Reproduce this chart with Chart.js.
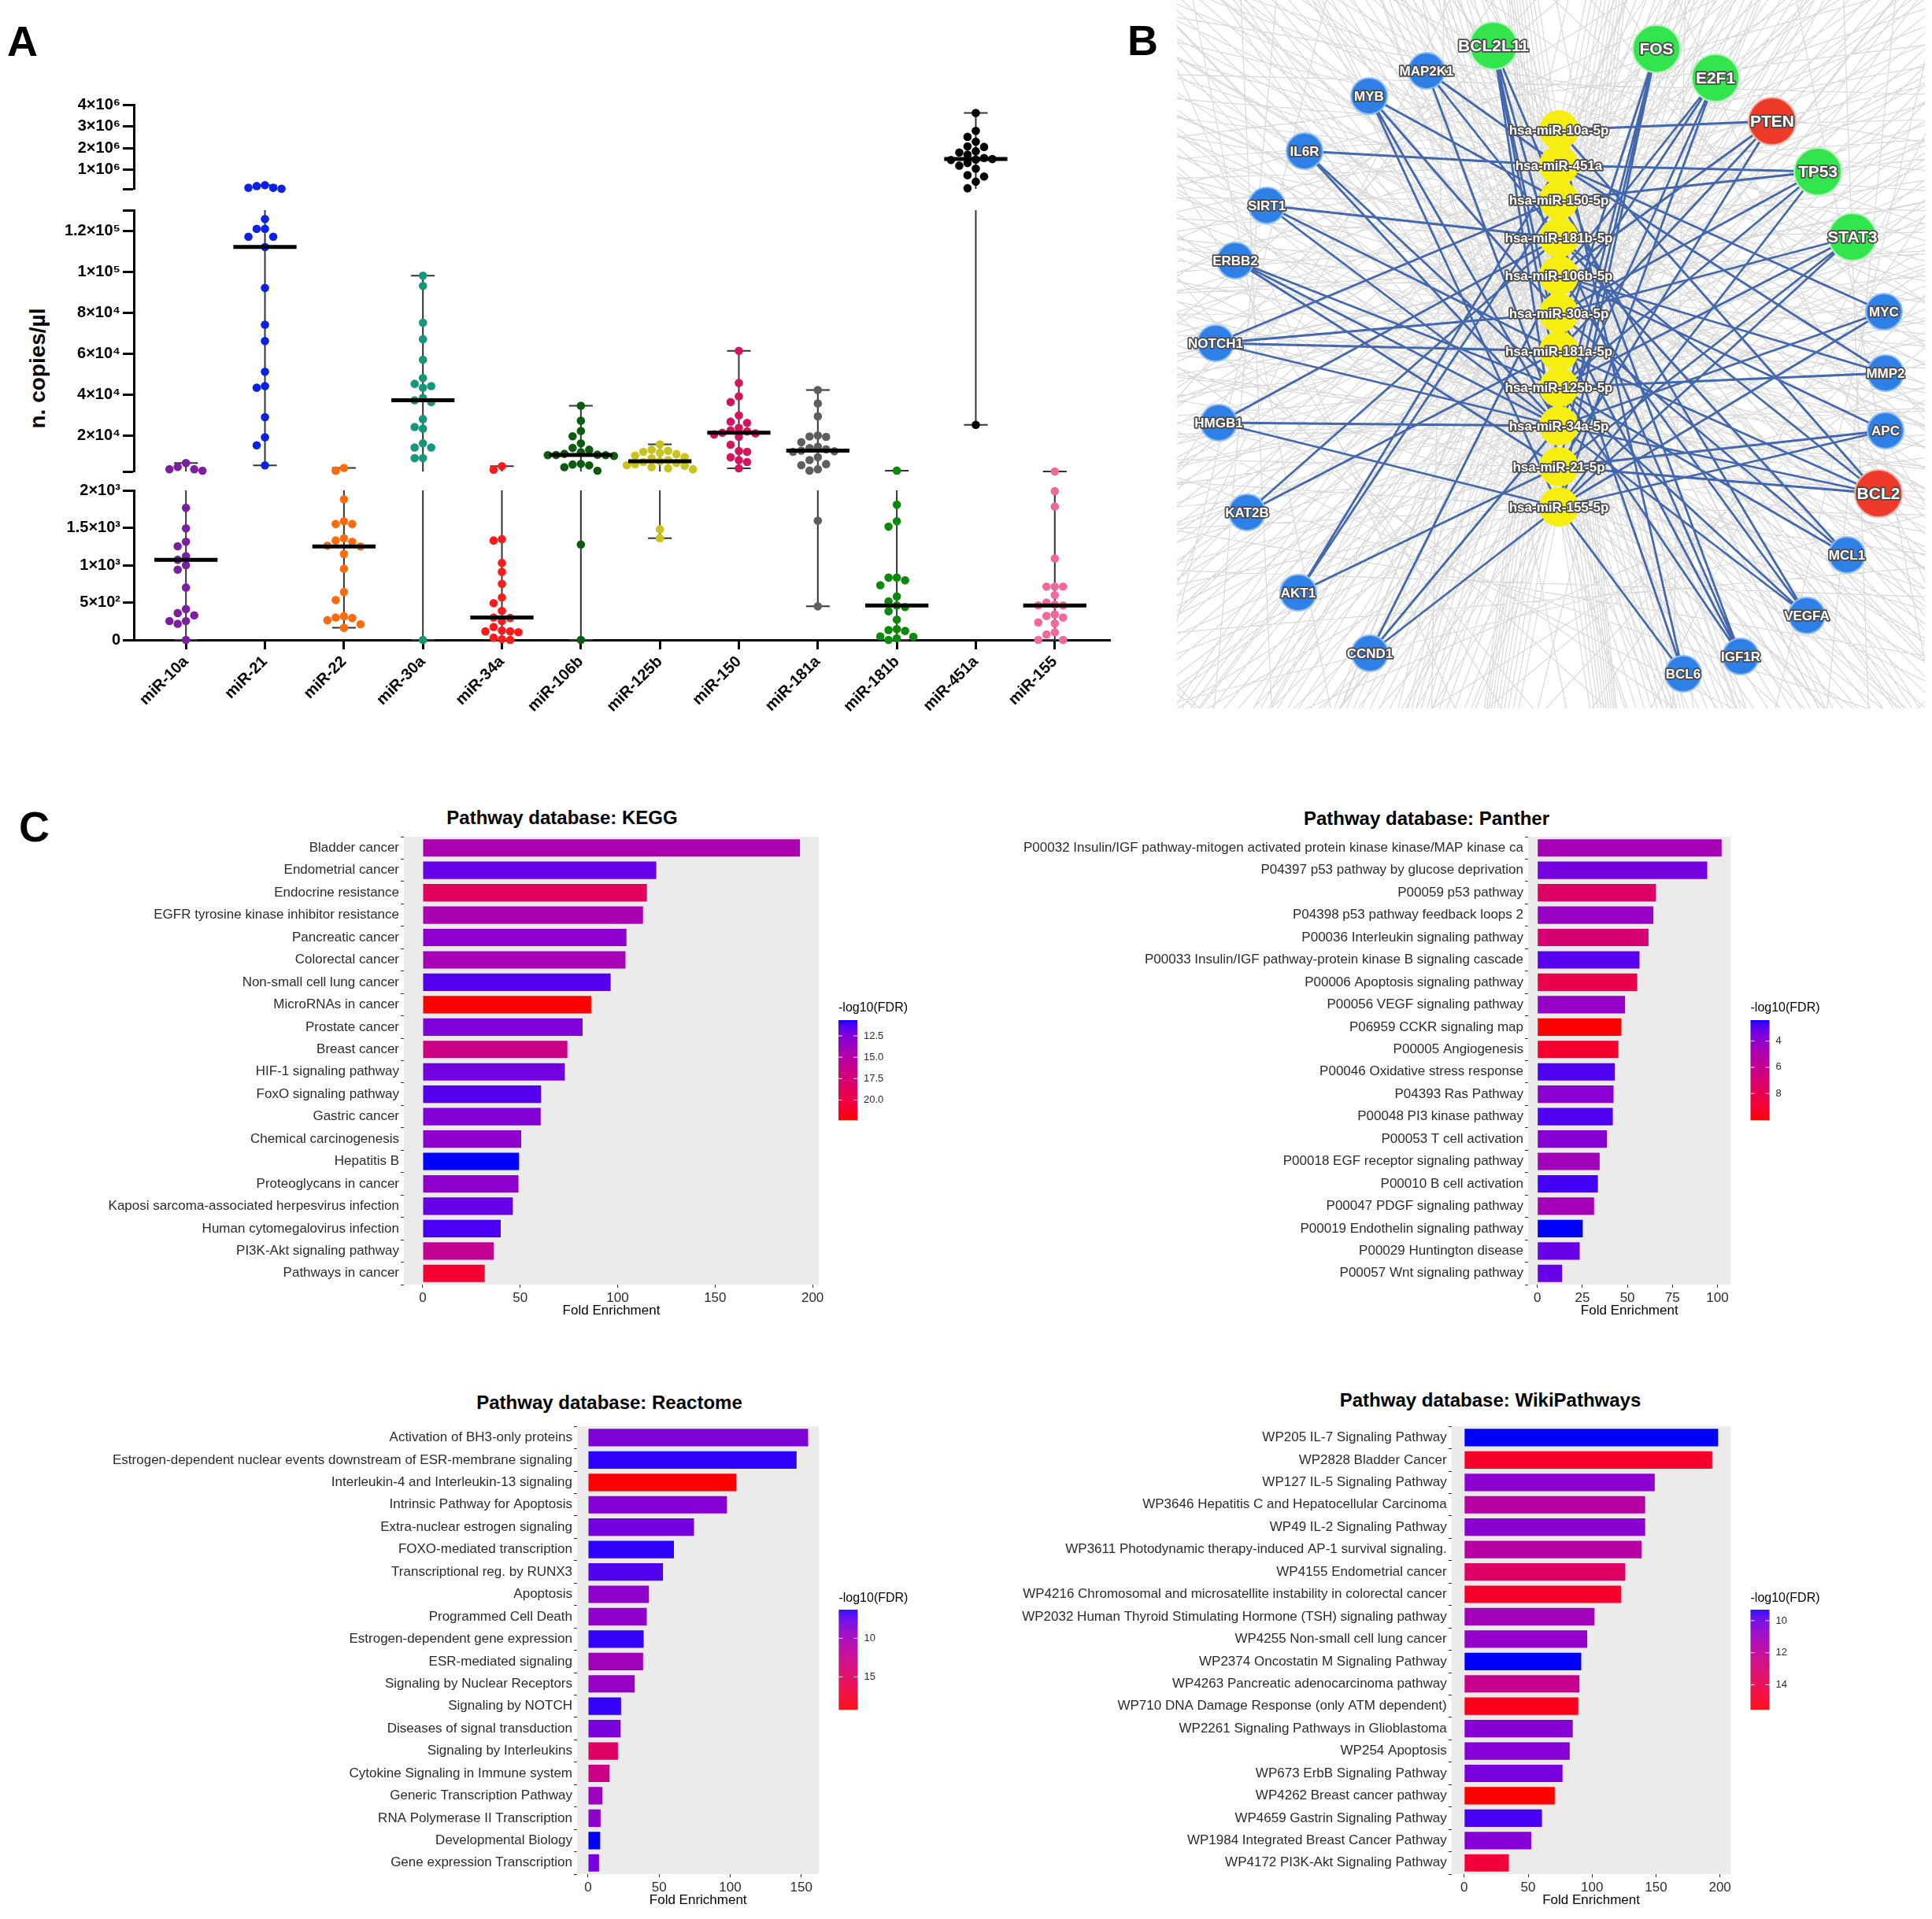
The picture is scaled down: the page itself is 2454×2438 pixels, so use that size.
<!DOCTYPE html>
<html>
<head>
<meta charset="utf-8">
<script src="https://cdn.jsdelivr.net/npm/chart.js@4.4.1/dist/chart.umd.min.js"></script>
<style>
body{margin:0;background:#fff;width:2454px;height:2438px;position:relative;overflow:hidden;font-family:"Liberation Sans",Arial,sans-serif}
.letter{position:absolute;font-weight:bold;font-size:54px;line-height:1;color:#000}
.ptitle{position:absolute;font-weight:bold;font-size:24px;line-height:1;white-space:nowrap;transform:translateX(-50%);color:#000}
.ylab{position:absolute;font-weight:bold;font-size:28px;line-height:1;white-space:nowrap;transform:translate(-50%,-50%) rotate(-90deg)}
</style>
</head>
<body>
<div class="letter" style="left:9px;top:25px">A</div>
<div class="letter" style="left:1432px;top:24px">B</div>
<div class="letter" style="left:24px;top:1023px">C</div>
<div class="ylab" style="left:48px;top:468px">n. copies/µl</div>
<div class="ptitle" style="left:714px;top:1027px">Pathway database: KEGG</div>
<div class="ptitle" style="left:1812px;top:1028px">Pathway database: Panther</div>
<div class="ptitle" style="left:774px;top:1770px">Pathway database: Reactome</div>
<div class="ptitle" style="left:1893px;top:1767px">Pathway database: WikiPathways</div>
<script>
// ---------- panel A : copies per µl ----------
const mirNames = ['miR-10a','miR-21','miR-22','miR-30a','miR-34a','miR-106b','miR-125b','miR-150','miR-181a','miR-181b','miR-451a','miR-155'];
const mir10a = [6500,4600,3500,3500,2800,1767,1492,1312,1252,1120,1072,1000,940,701,413,359,329,252,252,216,0];
const mir21 = [300000,260000,180000,180000,140000,125700,120900,120900,117000,117000,112000,92000,74100,66100,51100,44100,43300,28900,19100,15200,5400];
const mir22 = [4130,2825,1881,1587,1551,1551,1360,1330,1312,1260,1250,1150,952,641,533,317,300,293,264,210,162];
const mir30a = [98000,93000,75000,67000,57000,48000,45200,44100,43300,38300,37200,36300,28000,24100,23300,16100,14100,14100,8900,8900,0];
const mir34a = [5000,3260,1348,1330,1030,910,749,569,491,389,300,293,252,174,126,114,114,102,30,10,0];
const mir106b = [34500,27200,22200,19600,16100,13900,13000,11800,11000,10600,10430,10400,10400,10000,6100,5800,5400,4500,2800,1276,0];
const mir125b = [15650,13000,12500,12000,11500,10900,10200,9500,8800,8000,7390,7000,6500,6000,5500,5200,4500,3900,3500,1479,1360];
const mir150 = [61300,45650,39130,36300,29780,26740,26090,23700,22500,22000,21300,21000,20500,19300,15430,12400,12000,9350,8000,7000,3913];
const mir181a = [42170,35650,29350,20000,19500,19300,16700,14500,13800,13200,12600,12300,12000,9400,8000,6000,5500,3500,2826,1594,449];
const mir181b = [2826,1809,1587,1515,833,833,797,731,581,515,461,440,383,270,144,132,120,48,42,20,0];
const mir451a = [3620000,2800000,2520000,2300000,2080000,2060000,1860000,1800000,1700000,1550000,1500000,1480000,1460000,1320000,1200000,1060000,760000,700000,460000,160000,25200];
const mir155 = [2400,1989,1785,1090,713,713,713,600,500,473,461,461,341,320,300,234,220,102,72,0,0];
const mirValues = [mir10a,mir21,mir22,mir30a,mir34a,mir106b,mir125b,mir150,mir181a,mir181b,mir451a,mir155];
const mirColors = ['#7b1fa2','#0a22e6','#ff6a0a','#16967a','#ff1a1a','#0b5c0e','#c9c31c','#d4145e','#5e5e5e','#0b890b','#000000','#f2679c'];

const yTicksTop = [1e6,2e6,3e6,4e6];
const yLabelsTop = ['1×10⁶','2×10⁶','3×10⁶','4×10⁶'];
const yTicksMid = [2e4,4e4,6e4,8e4,1e5,1.2e5];
const yLabelsMid = ['2×10⁴','4×10⁴','6×10⁴','8×10⁴','1×10⁵','1.2×10⁵'];
const yTicksLow = [0,500,1000,1500,2000];
const yLabelsLow = ['0','5×10²','1×10³','1.5×10³','2×10³'];

// ---------- panel B : miRNA / target network ----------
const geneNames = ['BCL2L11','FOS','E2F1','PTEN','TP53','STAT3','MYC','MMP2','APC','BCL2','MCL1','VEGFA','IGF1R','BCL6','CCND1','AKT1','KAT2B','HMGB1','NOTCH1','ERBB2','SIRT1','IL6R','MYB','MAP2K1'];
const geneGroup = ['green','green','green','red','green','green','blue','blue','blue','red','blue','blue','blue','blue','blue','blue','blue','blue','blue','blue','blue','blue','blue','blue'];
const geneX = [402,609,684,756,814,858,898,900,900,891,851,800,716,643,245,154,89,53,49,74,114,162,244,317];
const geneY = [58,62,99,154,218,301,396,474,547,627,705,782,834,856,830,753,651,537,436,331,261,192,122,90];
const mirNodes = ['hsa-miR-10a-5p','hsa-miR-451a','hsa-miR-150-5p','hsa-miR-181b-5p','hsa-miR-106b-5p','hsa-miR-30a-5p','hsa-miR-181a-5p','hsa-miR-125b-5p','hsa-miR-34a-5p','hsa-miR-21-5p','hsa-miR-155-5p'];
const mirNodeY = [165,210,254,302,350,398,446,492,541,593,644];
const mirNodeX = 485;
const targetEdges = [
  ['BCL2L11','106b'],['BCL2L11','181a'],['BCL2L11','125b'],['BCL2L11','21'],['BCL2L11','150'],
  ['MAP2K1','451a'],['MAP2K1','34a'],['MAP2K1','181b'],
  ['MYB','150'],['MYB','155'],['MYB','34a'],['MYB','30a'],
  ['IL6R','451a'],['IL6R','125b'],['IL6R','34a'],
  ['SIRT1','181b'],['SIRT1','34a'],['SIRT1','181a'],
  ['ERBB2','125b'],['ERBB2','21'],['ERBB2','34a'],
  ['NOTCH1','30a'],['NOTCH1','34a'],['NOTCH1','181a'],['NOTCH1','150'],
  ['HMGB1','34a'],['HMGB1','181b'],['HMGB1','155'],
  ['KAT2B','181a'],['KAT2B','181b'],
  ['AKT1','451a'],['AKT1','150'],['AKT1','21'],
  ['CCND1','34a'],['CCND1','106b'],['CCND1','155'],
  ['BCL6','10a'],['BCL6','30a'],['BCL6','155'],
  ['IGF1R','30a'],['IGF1R','125b'],['IGF1R','451a'],['IGF1R','181b'],
  ['VEGFA','106b'],['VEGFA','150'],['VEGFA','34a'],['VEGFA','125b'],
  ['MCL1','125b'],['MCL1','181b'],['MCL1','30a'],
  ['BCL2','34a'],['BCL2','181a'],['BCL2','181b'],['BCL2','21'],['BCL2','10a'],
  ['APC','21'],['APC','155'],['APC','106b'],
  ['MMP2','451a'],['MMP2','106b'],['MMP2','125b'],
  ['MYC','34a'],['MYC','451a'],['MYC','155'],
  ['STAT3','125b'],['STAT3','21'],['STAT3','155'],['STAT3','30a'],
  ['TP53','125b'],['TP53','150'],['TP53','30a'],['TP53','155'],['TP53','451a'],
  ['PTEN','10a'],['PTEN','21'],['PTEN','106b'],['PTEN','181a'],
  ['E2F1','106b'],['E2F1','34a'],['E2F1','30a'],['E2F1','155'],
  ['FOS','155'],['FOS','21'],['FOS','181a'],['FOS','34a']
];
const mirShort = ['10a','451a','150','181b','106b','30a','181a','125b','34a','21','155'];
// other (off-screen) targets, as directions around the panel
const otherAngles = [4,13,19,27,36,44,51,59,68,75,83,99,108,116,124,131,140,148,157,165,172,181,189,198,206,213,222,230,239,247,254,263,279,288,296,303,312,320,329,337,345,353];

// ---------- panel C : enrichment ----------
const keggLabels = ['Bladder cancer','Endometrial cancer','Endocrine resistance','EGFR tyrosine kinase inhibitor resistance','Pancreatic cancer','Colorectal cancer','Non-small cell lung cancer','MicroRNAs in cancer','Prostate cancer','Breast cancer','HIF-1 signaling pathway','FoxO signaling pathway','Gastric cancer','Chemical carcinogenesis','Hepatitis B','Proteoglycans in cancer','Kaposi sarcoma-associated herpesvirus infection','Human cytomegalovirus infection','PI3K-Akt signaling pathway','Pathways in cancer'];
const keggFold = [193.5,119.8,115,113,104.5,104,96.4,86.4,82,74.2,72.9,60.7,60.5,50.5,49.4,49.1,46.2,40,36.4,31.8];
const keggFdr = [14.5,11.8,18.8,14.4,13.0,14.2,11.4,22.3,12.5,16.7,12.1,11.4,12.6,13.1,10.66,13.1,11.8,11.2,15.9,20.9];
const keggTicks = [0,50,100,150,200];
const keggLegendTicks = [12.5,15,17.5,20];

const pantherLabels = ['P00032 Insulin/IGF pathway-mitogen activated protein kinase kinase/MAP kinase ca','P04397 p53 pathway by glucose deprivation','P00059 p53 pathway','P04398 p53 pathway feedback loops 2','P00036 Interleukin signaling pathway','P00033 Insulin/IGF pathway-protein kinase B signaling cascade','P00006 Apoptosis signaling pathway','P00056 VEGF signaling pathway','P06959 CCKR signaling map','P00005 Angiogenesis','P00046 Oxidative stress response','P04393 Ras Pathway','P00048 PI3 kinase pathway','P00053 T cell activation','P00018 EGF receptor signaling pathway','P00010 B cell activation','P00047 PDGF signaling pathway','P00019 Endothelin signaling pathway','P00029 Huntington disease','P00057 Wnt signaling pathway'];
const pantherFold = [102.3,94.3,65.8,64.4,61.7,56.7,55.4,48.7,46.6,45,43,42.3,41.9,38.6,34.6,33.6,31.5,25.2,23.5,13.8];
const pantherFdr = [4.68,3.39,7.42,4.3,6.96,2.93,8.25,4.15,10.0,9.09,2.82,3.84,2.82,3.77,4.53,2.7,4.6,2.4,3.16,3.16];
const pantherTicks = [0,25,50,75,100];
const pantherLegendTicks = [4,6,8];

const reactomeLabels = ['Activation of BH3-only proteins','Estrogen-dependent nuclear events downstream of ESR-membrane signaling','Interleukin-4 and Interleukin-13 signaling','Intrinsic Pathway for Apoptosis','Extra-nuclear estrogen signaling','FOXO-mediated transcription','Transcriptional reg. by RUNX3','Apoptosis','Programmed Cell Death','Estrogen-dependent gene expression','ESR-mediated signaling','Signaling by Nuclear Receptors','Signaling by NOTCH','Diseases of signal transduction','Signaling by Interleukins','Cytokine Signaling in Immune system','Generic Transcription Pathway','RNA Polymerase II Transcription','Developmental Biology','Gene expression Transcription'];
const reactomeFold = [154.8,146.7,104.3,97.7,74.5,60.4,52.7,42.8,41.3,39.1,38.7,32.8,23.2,22.9,21,15.1,10,8.8,8.5,7.7];
const reactomeFdr = [8.36,6.56,19.2,8.5,7.98,6.56,7.07,9.0,9.0,6.62,9.9,9.4,6.62,8.1,14.8,13.0,9.65,8.9,6.3,8.0];
const reactomeTicks = [0,50,100,150];
const reactomeLegendTicks = [10,15];

const wikiLabels = ['WP205 IL-7 Signaling Pathway','WP2828 Bladder Cancer','WP127 IL-5 Signaling Pathway','WP3646 Hepatitis C and Hepatocellular Carcinoma','WP49 IL-2 Signaling Pathway','WP3611 Photodynamic therapy-induced AP-1 survival signaling.','WP4155 Endometrial cancer','WP4216 Chromosomal and microsatellite instability in colorectal cancer','WP2032 Human Thyroid Stimulating Hormone (TSH) signaling pathway','WP4255 Non-small cell lung cancer','WP2374 Oncostatin M Signaling Pathway','WP4263 Pancreatic adenocarcinoma pathway','WP710 DNA Damage Response (only ATM dependent)','WP2261 Signaling Pathways in Glioblastoma','WP254 Apoptosis','WP673 ErbB Signaling Pathway','WP4262 Breast cancer pathway','WP4659 Gastrin Signaling Pathway','WP1984 Integrated Breast Cancer Pathway','WP4172 PI3K-Akt Signaling Pathway'];
const wikiFold = [198.6,193.9,149,141.5,141.5,138.7,126,122.6,101.9,96.2,91.5,90.1,89.2,84.9,82.5,76.9,70.8,60.8,52.4,34.9];
const wikiFdr = [9.32,14.9,10.56,11.68,10.5,11.68,13.42,14.9,11.06,10.69,9.32,12.3,15.2,10.44,10.38,10.19,15.53,9.6,10.38,14.6];
const wikiTicks = [0,50,100,150,200];
const wikiLegendTicks = [10,12,14];

// ------------------------------------------------------------
Chart.defaults.font.family = '"Liberation Sans", Arial, sans-serif';
Chart.defaults.animation = false;
Chart.defaults.plugins.legend.display = false;
Chart.defaults.plugins.tooltip.enabled = false;

function addCanvas(left, top, w, h) {
  const c = document.createElement('canvas');
  c.width = w; c.height = h;
  c.style.cssText = 'position:absolute;left:' + left + 'px;top:' + top + 'px;width:' + w + 'px;height:' + h + 'px';
  document.body.appendChild(c);
  return c;
}

function median(arr) {
  const s = arr.slice().sort((a, b) => a - b);
  const m = Math.floor(s.length / 2);
  return s.length % 2 ? s[m] : (s[m - 1] + s[m]) / 2;
}

// ---------------- panel A ----------------
const segments = [
  {min: 130000, max: 4e6, ticks: yTicksTop, labels: yLabelsTop, top: 133, bottom: 245, canvasTop: 105, canvasH: 150, xAxis: false},
  {min: 2400, max: 130000, ticks: yTicksMid, labels: yLabelsMid, top: 266, bottom: 603, canvasTop: 252, canvasH: 362, xAxis: false},
  {min: 0, max: 2000, ticks: yTicksLow, labels: yLabelsLow, top: 622, bottom: 813, canvasTop: 608, canvasH: 335, xAxis: true}
];
const A_LEFT = 170, A_RIGHT = 1410, A_W = 1440, A_XH = 125;
const STEP = 10.5;

function segOf(v) {
  if (v <= segments[2].max) return segments[2];
  if (v <= segments[1].max) return segments[1];
  return segments[0];
}

function swarm(chart) {
  const xs = chart.scales.x, ys = chart.scales.y;
  const unit = xs.getPixelForValue(1) - xs.getPixelForValue(0);
  chart.data.datasets.forEach(ds => {
    if (!ds.swarm) return;
    const placed = [];
    ds.data.forEach(p => {
      const py = ys.getPixelForValue(p.y);
      let off = 0;
      for (let k = 0; k < 60; k++) {
        const cand = (k % 2 ? -1 : 1) * Math.ceil(k / 2) * STEP;
        if (placed.every(q => Math.hypot(q[0] - cand, q[1] - py) >= STEP)) { off = cand; break; }
      }
      placed.push([off, py]);
      p.x = p.g + off / unit;
    });
  });
  chart.update('none');
}

function makeSegment(seg) {
  const cv = addCanvas(0, seg.canvasTop, A_W, seg.canvasH);
  const datasets = [];
  const whisk = [], meds = [];
  const inSeg = v => segOf(v) === seg;
  mirValues.forEach((vals, gi) => {
    const lo = Math.min(...vals), hi = Math.max(...vals), med = median(vals);
    const a = Math.max(lo, seg.min), b = Math.min(hi, seg.max);
    if (a <= b) whisk.push({x: gi, y: a}, {x: gi, y: b}, {x: gi, y: null});
    if (inSeg(hi)) whisk.push({x: gi - 0.15, y: hi}, {x: gi + 0.15, y: hi}, {x: gi, y: null});
    if (inSeg(lo)) whisk.push({x: gi - 0.15, y: lo}, {x: gi + 0.15, y: lo}, {x: gi, y: null});
    if (inSeg(med)) meds.push({x: gi - 0.4, y: med}, {x: gi + 0.4, y: med}, {x: gi, y: null});
    const pts = vals.filter(inSeg).map(v => ({x: gi, y: v, g: gi}));
    datasets.push({data: pts, backgroundColor: mirColors[gi], borderWidth: 0, pointRadius: 5.3, clip: false, order: 1, swarm: true});
  });
  datasets.push({data: whisk, showLine: true, borderColor: '#333', borderWidth: 2, pointRadius: 0, clip: false, order: 2});
  datasets.push({data: meds, showLine: true, borderColor: '#000', borderWidth: 5, pointRadius: 0, clip: false, order: 0});

  const xh = seg.xAxis ? A_XH : 0;
  const chart = new Chart(cv, {
    type: 'scatter',
    data: {datasets},
    options: {
      responsive: false,
      layout: {autoPadding: false, padding: {left: 0, top: seg.top - seg.canvasTop, right: A_W - A_RIGHT, bottom: seg.canvasTop + seg.canvasH - seg.bottom - xh}},
      scales: {
        x: {
          type: 'linear', min: -0.66, max: 11.7, display: seg.xAxis,
          afterBuildTicks: s => { s.ticks = mirNames.map((n, i) => ({value: i})); },
          afterFit: s => { s.height = xh; },
          grid: {drawOnChartArea: false, tickLength: 12, tickWidth: 3, tickColor: '#000'},
          border: {display: true, width: 3, color: '#000'},
          ticks: {autoSkip: false, minRotation: 45, maxRotation: 45, padding: 4, color: '#000', font: {size: 20, weight: 'bold'}, callback: v => mirNames[v]}
        },
        y: {
          type: 'linear', min: seg.min, max: seg.max,
          afterBuildTicks: s => {
            const t = seg.ticks.slice();
            if (!t.includes(seg.min)) t.unshift(seg.min);
            if (!t.includes(seg.max)) t.push(seg.max);
            s.ticks = t.map(v => ({value: v}));
          },
          afterFit: s => { s.width = A_LEFT; },
          grid: {drawOnChartArea: false, tickLength: 14, tickWidth: 3, tickColor: '#000'},
          border: {display: true, width: 3, color: '#000'},
          ticks: {padding: 3, color: '#000', font: {size: 20, weight: 'bold'},
            callback: v => { const i = seg.ticks.indexOf(v); return i < 0 ? '' : seg.labels[i]; }}
        }
      }
    }
  });
  swarm(chart);
}
segments.forEach(makeSegment);

// ---------------- panel B ----------------
const nodeStyle = {
  blue: {r: 23, fill: '#2e7fe6', ring: '#8fbcf2', font: 17},
  green: {r: 30, fill: '#33e54c', ring: '#b4f2bc', font: 21},
  red: {r: 30, fill: '#ee3a28', ring: '#f5b0a6', font: 21},
  mir: {r: 24, fill: '#f7ee11', ring: '#f7ee11', font: 17}
};
(function () {
  const cv = addCanvas(1495, 0, 950, 900);
  const nodes = [];
  geneNames.forEach((n, i) => nodes.push({x: geneX[i], y: geneY[i], name: n, group: geneGroup[i]}));
  mirNodes.forEach((n, i) => nodes.push({x: mirNodeX, y: mirNodeY[i], name: n, group: 'mir'}));
  const pos = {};
  nodes.forEach(n => { pos[n.name] = n; });

  const blue = [];
  targetEdges.forEach(([g, m]) => {
    const a = pos[g], b = pos[mirNodes[mirShort.indexOf(m)]];
    blue.push({x: a.x, y: a.y}, {x: b.x, y: b.y}, {x: a.x, y: null});
  });
  // off-screen targets: radial links to the miRNAs plus links passing across the panel
  const anchors = otherAngles.map(deg => ({
    x: 485 + 1100 * Math.cos(deg * Math.PI / 180),
    y: 420 + 1100 * Math.sin(deg * Math.PI / 180)
  }));
  const gray = [];
  anchors.forEach((a, k) => {
    mirNodeY.forEach(my => gray.push({x: a.x, y: a.y}, {x: mirNodeX, y: my}, {x: a.x, y: null}));
    [7, 12, 17, 22].forEach(d => {
      const b = anchors[(k + d) % anchors.length];
      gray.push({x: a.x, y: a.y}, {x: b.x, y: b.y}, {x: a.x, y: null});
    });
  });

  const nodeLabels = {
    id: 'nodeLabels',
    afterDatasetsDraw(chart) {
      const ctx = chart.ctx, meta = chart.getDatasetMeta(0);
      meta.data.forEach((el, i) => {
        const n = nodes[i], st = nodeStyle[n.group];
        ctx.save();
        ctx.font = 'bold ' + st.font + 'px "Liberation Sans", Arial, sans-serif';
        ctx.textAlign = 'center'; ctx.textBaseline = 'middle';
        ctx.lineJoin = 'round'; ctx.lineWidth = 3.5; ctx.strokeStyle = '#4a4a4a';
        ctx.strokeText(n.name, el.x, el.y + 1);
        ctx.fillStyle = '#fff';
        ctx.fillText(n.name, el.x, el.y + 1);
        ctx.restore();
      });
    }
  };

  new Chart(cv, {
    type: 'scatter',
    data: {datasets: [
      {data: nodes, order: 0, clip: false,
        pointRadius: nodes.map(n => nodeStyle[n.group].r),
        backgroundColor: nodes.map(n => nodeStyle[n.group].fill),
        borderColor: nodes.map(n => nodeStyle[n.group].ring), borderWidth: 2},
      {data: blue, order: 1, showLine: true, pointRadius: 0, borderColor: 'rgba(52,92,168,0.92)', borderWidth: 2.8},
      {data: gray, order: 2, showLine: true, pointRadius: 0, borderColor: 'rgba(165,165,165,0.42)', borderWidth: 1.2}
    ]},
    options: {
      responsive: false,
      layout: {autoPadding: false, padding: 0},
      scales: {
        x: {type: 'linear', min: 0, max: 950, display: false},
        y: {type: 'linear', min: 0, max: 900, reverse: true, display: false}
      }
    },
    plugins: [nodeLabels]
  });
})();

// ---------------- panel C ----------------
function toLinear(c) { c /= 255; return c <= 0.04045 ? c / 12.92 : Math.pow((c + 0.055) / 1.055, 2.4); }
function fromLinear(c) { c = c <= 0.0031308 ? 12.92 * c : 1.055 * Math.pow(c, 1 / 2.4) - 0.055; return Math.round(Math.min(1, Math.max(0, c)) * 255); }
function rgbToLab(r, g, b) {
  r = toLinear(r); g = toLinear(g); b = toLinear(b);
  const X = (0.4124 * r + 0.3576 * g + 0.1805 * b) / 0.95047;
  const Y = (0.2126 * r + 0.7152 * g + 0.0722 * b);
  const Z = (0.0193 * r + 0.1192 * g + 0.9505 * b) / 1.08883;
  const f = t => t > 0.008856 ? Math.cbrt(t) : 7.787 * t + 16 / 116;
  return [116 * f(Y) - 16, 500 * (f(X) - f(Y)), 200 * (f(Y) - f(Z))];
}
function labToRgb(L, a, b) {
  const fy = (L + 16) / 116, fx = fy + a / 500, fz = fy - b / 200;
  const g = t => t > 0.206893 ? t * t * t : (t - 16 / 116) / 7.787;
  const X = 0.95047 * g(fx), Y = g(fy), Z = 1.08883 * g(fz);
  const r = 3.2406 * X - 1.5372 * Y - 0.4986 * Z;
  const gg = -0.9689 * X + 1.8758 * Y + 0.0415 * Z;
  const bb = 0.0557 * X - 0.2040 * Y + 1.0570 * Z;
  return 'rgb(' + fromLinear(r) + ',' + fromLinear(gg) + ',' + fromLinear(bb) + ')';
}
const LAB_LOW = rgbToLab(0, 0, 255), LAB_HIGH = rgbToLab(255, 0, 0);
function fdrColor(v, lo, hi) {
  const t = (v - lo) / (hi - lo);
  return labToRgb(LAB_LOW[0] + t * (LAB_HIGH[0] - LAB_LOW[0]), LAB_LOW[1] + t * (LAB_HIGH[1] - LAB_LOW[1]), LAB_LOW[2] + t * (LAB_HIGH[2] - LAB_LOW[2]));
}

const panelBg = {
  id: 'panelBg',
  beforeDraw(chart) {
    const {ctx, chartArea: a} = chart;
    ctx.save(); ctx.fillStyle = '#ebebeb'; ctx.fillRect(a.left, a.top, a.width, a.height); ctx.restore();
  }
};
const colorbar = {
  id: 'colorbar',
  afterDraw(chart, args, o) {
    const {ctx, chartArea: a} = chart;
    const x0 = a.right + 25, w = 24, h = 126.5;
    const top = (a.top + a.bottom) / 2 - 51.5;
    ctx.save();
    for (let i = 0; i < h; i++) {
      ctx.fillStyle = fdrColor(o.lo + (o.hi - o.lo) * (i + 0.5) / h, o.lo, o.hi);
      ctx.fillRect(x0, top + i, w, 1.2);
    }
    ctx.strokeStyle = 'rgba(255,255,255,0.9)'; ctx.lineWidth = 1;
    ctx.fillStyle = '#2b2b2b';
    ctx.font = '13px "Liberation Sans", Arial, sans-serif';
    ctx.textBaseline = 'middle'; ctx.textAlign = 'left';
    o.ticks.forEach(t => {
      const y = top + (t - o.lo) / (o.hi - o.lo) * h;
      ctx.beginPath();
      ctx.moveTo(x0, y); ctx.lineTo(x0 + 5, y);
      ctx.moveTo(x0 + w - 5, y); ctx.lineTo(x0 + w, y);
      ctx.stroke();
      ctx.fillText(o.fmt(t), x0 + w + 8, y);
    });
    ctx.fillStyle = '#000';
    ctx.font = '16px "Liberation Sans", Arial, sans-serif';
    ctx.fillText('-log10(FDR)', x0, top - 15);
    ctx.restore();
  }
};

const C_XH = 50;
function makeBarChart(cfg) {
  const [cl, ct, cw, ch] = cfg.canvas;
  const [al, at, ar, ab] = cfg.area;
  const cv = addCanvas(cl, ct, cw, ch);
  const lo = Math.min(...cfg.fdr), hi = Math.max(...cfg.fdr);
  const vmax = Math.max(...cfg.values);
  new Chart(cv, {
    type: 'bar',
    data: {labels: cfg.labels, datasets: [{
      data: cfg.values,
      backgroundColor: cfg.fdr.map(v => fdrColor(v, lo, hi)),
      barPercentage: 0.78, categoryPercentage: 1
    }]},
    options: {
      indexAxis: 'y', responsive: false,
      layout: {padding: {left: 0, top: at - ct, right: cl + cw - ar, bottom: ct + ch - ab - C_XH}},
      scales: {
        x: {
          type: 'linear', min: -0.05 * vmax, max: 1.05 * vmax,
          afterBuildTicks: s => { s.ticks = cfg.ticks.map(v => ({value: v})); },
          afterFit: s => { s.height = C_XH; },
          grid: {drawOnChartArea: false, tickLength: 4, tickColor: '#333', tickWidth: 1},
          border: {display: false},
          ticks: {color: '#2b2b2b', font: {size: 17}, padding: 3, maxRotation: 0, autoSkip: false},
          title: {display: true, text: 'Fold Enrichment', color: '#000', font: {size: 17}, padding: {top: 0, bottom: 6}}
        },
        y: {
          afterFit: s => { s.width = al - cl; },
          grid: {drawOnChartArea: false, tickLength: 4, tickColor: '#333', tickWidth: 1},
          border: {display: false},
          ticks: {color: '#2b2b2b', font: {size: 17}, padding: 2, autoSkip: false}
        }
      },
      plugins: {colorbar: {lo, hi, ticks: cfg.legendTicks, fmt: cfg.fmt}}
    },
    plugins: [panelBg, colorbar]
  });
}

makeBarChart({canvas: [0, 1050, 1240, 645], area: [513, 1063, 1040, 1632], labels: keggLabels, values: keggFold, fdr: keggFdr, ticks: keggTicks, legendTicks: keggLegendTicks, fmt: t => t.toFixed(1)});
makeBarChart({canvas: [1200, 1050, 1254, 645], area: [1941, 1063, 2198.5, 1632], labels: pantherLabels, values: pantherFold, fdr: pantherFdr, ticks: pantherTicks, legendTicks: pantherLegendTicks, fmt: t => String(t)});
makeBarChart({canvas: [0, 1800, 1240, 638], area: [733, 1812, 1040.4, 2381], labels: reactomeLabels, values: reactomeFold, fdr: reactomeFdr, ticks: reactomeTicks, legendTicks: reactomeLegendTicks, fmt: t => String(t)});
makeBarChart({canvas: [1200, 1800, 1254, 638], area: [1843.7, 1812, 2198.5, 2381], labels: wikiLabels, values: wikiFold, fdr: wikiFdr, ticks: wikiTicks, legendTicks: wikiLegendTicks, fmt: t => String(t)});
</script>
</body>
</html>
